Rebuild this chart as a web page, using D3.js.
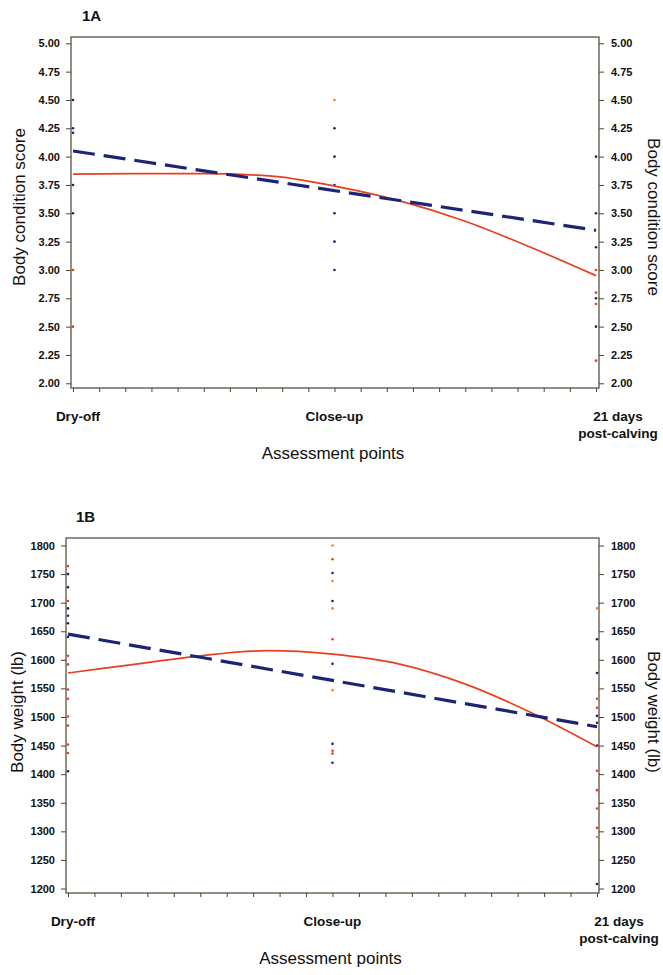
<!DOCTYPE html>
<html>
<head>
  <meta charset="utf-8">
  <title>Body condition score and body weight</title>
  <script src="https://cdn.jsdelivr.net/npm/d3@7"></script>
  <style>
    body { margin: 0; background: #fff; }
    svg { display: block; font-family: "Liberation Sans", Arial, sans-serif; }
    .tick text { font-weight: bold; font-size: 11px; fill: #111; }
    .xlab { font-weight: bold; font-size: 13.5px; fill: #111; }
    .title { font-size: 17px; fill: #111; }
    .panel-id { font-weight: bold; font-size: 15px; fill: #111; }
  </style>
</head>
<body>
<div id="chart"></div>
<script>
  // assessment points (x = 0, 1, 2)
  var points = ['Dry-off', 'Close-up', '21 days|post-calving'];
  var fitX = [0, 0.25, 0.5, 0.75, 1, 1.25, 1.5, 1.75, 2];

  // 1A body condition score
  var bcsTicks = [2.00, 2.25, 2.50, 2.75, 3.00, 3.25, 3.50, 3.75, 4.00, 4.25, 4.50, 4.75, 5.00];
  var bcsRedFit = [3.845, 3.85, 3.85, 3.83, 3.74, 3.61, 3.43, 3.20, 2.95];
  var bcsBlueFit = [4.05, 3.35];   // straight line, dry-off -> 21 days
  var bcsBlueDots = [[0, 4.50], [0, 4.25], [0, 4.21], [0, 3.75], [0, 3.50],
                     [1, 4.25], [1, 4.00], [1, 3.75], [1, 3.50], [1, 3.25], [1, 3.00],
                     [2, 4.00], [2, 3.50], [2, 3.20], [2, 2.75], [2, 2.50]];
  var bcsRedDots = [[0, 3.00], [0, 2.50], [2, 3.00], [2, 2.80], [2, 2.70], [2, 2.20]];
  var bcsOrangeDots = [[1, 4.50]];

  // 1B body weight (lb)
  var bwTicks = [1200, 1250, 1300, 1350, 1400, 1450, 1500, 1550, 1600, 1650, 1700, 1750, 1800];
  var bwRedFit = [1577, 1592, 1607, 1616, 1610, 1593, 1558, 1508, 1448];
  var bwBlueFit = [1645, 1483];
  var bwBlueDots = [[0, 1750], [0, 1727], [0, 1690], [0, 1677], [0, 1664], [0, 1640], [0, 1405],
                    [1, 1752], [1, 1703], [1, 1593], [1, 1453], [1, 1420],
                    [2, 1636], [2, 1577], [2, 1502], [2, 1490], [2, 1450], [2, 1208]];
  var bwRedDots = [[0, 1764], [0, 1703], [0, 1607], [0, 1592], [0, 1548], [0, 1532], [0, 1501],
                   [0, 1485], [0, 1452], [0, 1437],
                   [1, 1776], [1, 1636], [1, 1441], [1, 1436],
                   [2, 1532], [2, 1516], [2, 1406], [2, 1372], [2, 1340], [2, 1306]];
  var bwOrangeDots = [[1, 1800], [1, 1738], [1, 1690], [1, 1547], [2, 1690], [2, 1290]];

  var W = 663, H = 975;
  var svg = d3.select('#chart').append('svg').attr('width', W).attr('height', H);

  var RED = '#e8401e', ORANGE = '#f08428', NAVY = '#1c2476', FRAME = '#4d4330';

  function drawPanel(p) {
    var g = svg.append('g');
    var x = d3.scaleLinear().domain([0, 2]).range([p.x0, p.x1]);
    var y = d3.scaleLinear().domain(p.domain).range([p.yBottom, p.yTop]);

    // frame
    g.append('rect')
      .attr('x', p.left).attr('y', p.top)
      .attr('width', p.right - p.left).attr('height', p.bottom - p.top)
      .attr('fill', 'none').attr('stroke', FRAME).attr('stroke-width', 1.2);

    var fmt = p.fmt;
    var left = g.append('g').attr('transform', 'translate(' + p.left + ',0)')
      .call(d3.axisLeft(y).tickValues(p.ticks).tickFormat(fmt).tickSize(5).tickPadding(6));
    var right = g.append('g').attr('transform', 'translate(' + p.right + ',0)')
      .call(d3.axisRight(y).tickValues(p.ticks).tickFormat(fmt).tickSize(5).tickPadding(7));
    [left, right].forEach(function(a) {
      a.select('.domain').remove();
      a.selectAll('line').attr('stroke', FRAME);
    });

    // x ticks (minor every tenth of an interval)
    var xt = g.append('g').attr('transform', 'translate(0,' + p.bottom + ')')
      .call(d3.axisBottom(x).tickValues(d3.range(0, 21).map(function(i) { return i / 10; }))
        .tickSize(4).tickFormat(''));
    xt.select('.domain').remove();
    xt.selectAll('line').attr('stroke', FRAME);

    // x category labels
    points.forEach(function(name, i) {
      var lines = name.split('|');
      var cx = x(i) + (i === 0 ? 5 : i === 2 ? 22 : 0);
      lines.forEach(function(l, j) {
        g.append('text').attr('class', 'xlab')
          .attr('x', cx).attr('y', p.bottom + 33 + j * 17)
          .attr('text-anchor', 'middle').text(l);
      });
    });

    g.append('text').attr('class', 'title')
      .attr('x', (p.left + p.right) / 2 - 2).attr('y', p.bottom + 71)
      .attr('text-anchor', 'middle').text('Assessment points');

    g.append('text').attr('class', 'title')
      .attr('transform', 'translate(' + p.lt[0] + ',' + p.lt[1] + ') rotate(-90)')
      .attr('text-anchor', 'middle').text(p.ytitle);
    g.append('text').attr('class', 'title')
      .attr('transform', 'translate(' + p.rt[0] + ',' + p.rt[1] + ') rotate(90)')
      .attr('text-anchor', 'middle').text(p.ytitle);

    g.append('text').attr('class', 'panel-id')
      .attr('x', p.idx).attr('y', p.top - 16).text(p.id);

    // dots
    function dots(data, color) {
      g.append('g').selectAll('circle').data(data).enter().append('circle')
        .attr('cx', function(d) { return x(d[0]); })
        .attr('cy', function(d) { return y(d[1]); })
        .attr('r', 1.3).attr('fill', color);
    }
    dots(p.blue, NAVY);
    dots(p.red, RED);
    dots(p.orange, ORANGE);

    // fitted lines
    var redLine = d3.line().curve(d3.curveMonotoneX)
      .x(function(d, i) { return x(fitX[i]); })
      .y(function(d) { return y(d); });
    g.append('path').datum(p.redFit).attr('d', redLine)
      .attr('fill', 'none').attr('stroke', RED).attr('stroke-width', 1.7);

    var blueLine = d3.line()
      .x(function(d, i) { return x(i * 2); })
      .y(function(d) { return y(d); });
    g.append('path').datum(p.blueFit).attr('d', blueLine)
      .attr('fill', 'none').attr('stroke', NAVY).attr('stroke-width', 3.2)
      .attr('stroke-dasharray', '22,9');
  }

  drawPanel({
    id: '1A', idx: 82,
    left: 71, right: 599, top: 37, bottom: 388,
    x0: 73, x1: 596,
    domain: [2, 5], yBottom: 383.3, yTop: 43.3,
    ticks: bcsTicks, fmt: d3.format('.2f'),
    ytitle: 'Body condition score', lt: [25, 207], rt: [648, 217],
    redFit: bcsRedFit, blueFit: bcsBlueFit,
    blue: bcsBlueDots, red: bcsRedDots, orange: bcsOrangeDots
  });

  drawPanel({
    id: '1B', idx: 76,
    left: 66, right: 599, top: 538, bottom: 893,
    x0: 68, x1: 597,
    domain: [1200, 1800], yBottom: 888.5, yTop: 545.5,
    ticks: bwTicks, fmt: d3.format('d'),
    ytitle: 'Body weight (lb)', lt: [23, 712], rt: [648, 712],
    redFit: bwRedFit, blueFit: bwBlueFit,
    blue: bwBlueDots, red: bwRedDots, orange: bwOrangeDots
  });
</script>
</body>
</html>
